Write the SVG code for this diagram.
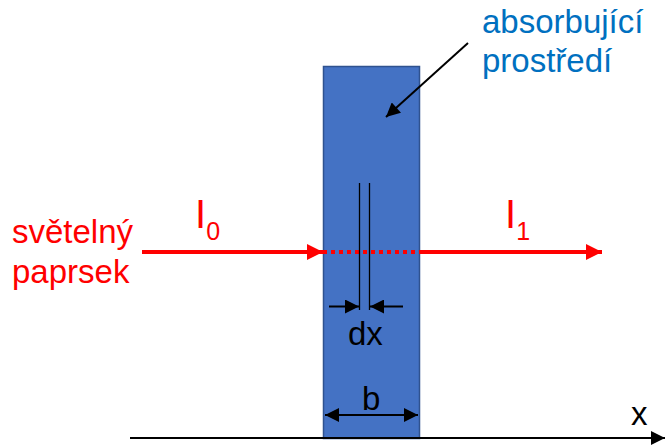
<svg xmlns="http://www.w3.org/2000/svg" width="665" height="446" viewBox="0 0 665 446">
<style>
.t{font-family:"Liberation Sans",Arial,sans-serif;font-size:33px}
.red{fill:#FF0000}
.blue{fill:#0070C0}
.blk{fill:#000000}
.ln{stroke:#000;stroke-width:2;fill:none}
.thin{stroke:#000;stroke-width:1.3;fill:none}
</style>
<defs>
<marker id="ahR" viewBox="0 0 10 10" refX="10" refY="5" markerWidth="4" markerHeight="4" orient="auto" markerUnits="strokeWidth"><path d="M0,0 L10,5 L0,10 z" fill="#FF0000"/></marker>
<marker id="ahK" viewBox="0 0 10 10" refX="10" refY="5" markerWidth="7.5" markerHeight="7" orient="auto-start-reverse" markerUnits="strokeWidth"><path d="M0,0 L10,5 L0,10 z" fill="#000"/></marker>
</defs>
<g id="medium">
<rect x="323.5" y="66.5" width="96" height="372" fill="#4472C4" stroke="#2F528F" stroke-width="1.5"/>
</g>
<g id="connectors">
<line x1="142" y1="252" x2="323" y2="252" stroke="#FF0000" stroke-width="4" marker-end="url(#ahR)"/>
<line x1="323" y1="252" x2="420" y2="252" stroke="#FF0000" stroke-width="4" stroke-dasharray="4,4"/>
<line x1="420" y1="252" x2="602" y2="252" stroke="#FF0000" stroke-width="4" marker-end="url(#ahR)"/>
<line class="thin" x1="359.5" y1="183" x2="359.5" y2="310"/>
<line class="thin" x1="369.5" y1="183" x2="369.5" y2="310"/>
<line class="ln" x1="329" y1="306.5" x2="359" y2="306.5" marker-end="url(#ahK)"/>
<line class="ln" x1="403" y1="306.5" x2="370" y2="306.5" marker-end="url(#ahK)"/>
<line class="ln" x1="325" y1="415" x2="418" y2="415" marker-start="url(#ahK)" marker-end="url(#ahK)"/>
<line class="ln" x1="130" y1="438" x2="665" y2="438" marker-end="url(#ahK)"/>
<line class="ln" x1="468" y1="43" x2="386" y2="117" marker-end="url(#ahK)"/>
</g>
<g id="labels">
<text class="t blue" x="482" y="33">absorbující</text>
<text class="t blue" x="482" y="72">prostředí</text>
<text class="t red" x="12" y="243">světelný</text>
<text class="t red" x="12" y="283">paprsek</text>
<text class="t red" x="195" y="228" style="font-size:40px">I<tspan dy="12" style="font-size:25px">0</tspan></text>
<text class="t red" x="505" y="228" style="font-size:40px">I<tspan dy="12" style="font-size:25px">1</tspan></text>
<text class="t blk" x="348" y="345">dx</text>
<text class="t blk" x="362" y="410">b</text>
<text class="t blk" x="631" y="425">x</text>
</g>
</svg>
